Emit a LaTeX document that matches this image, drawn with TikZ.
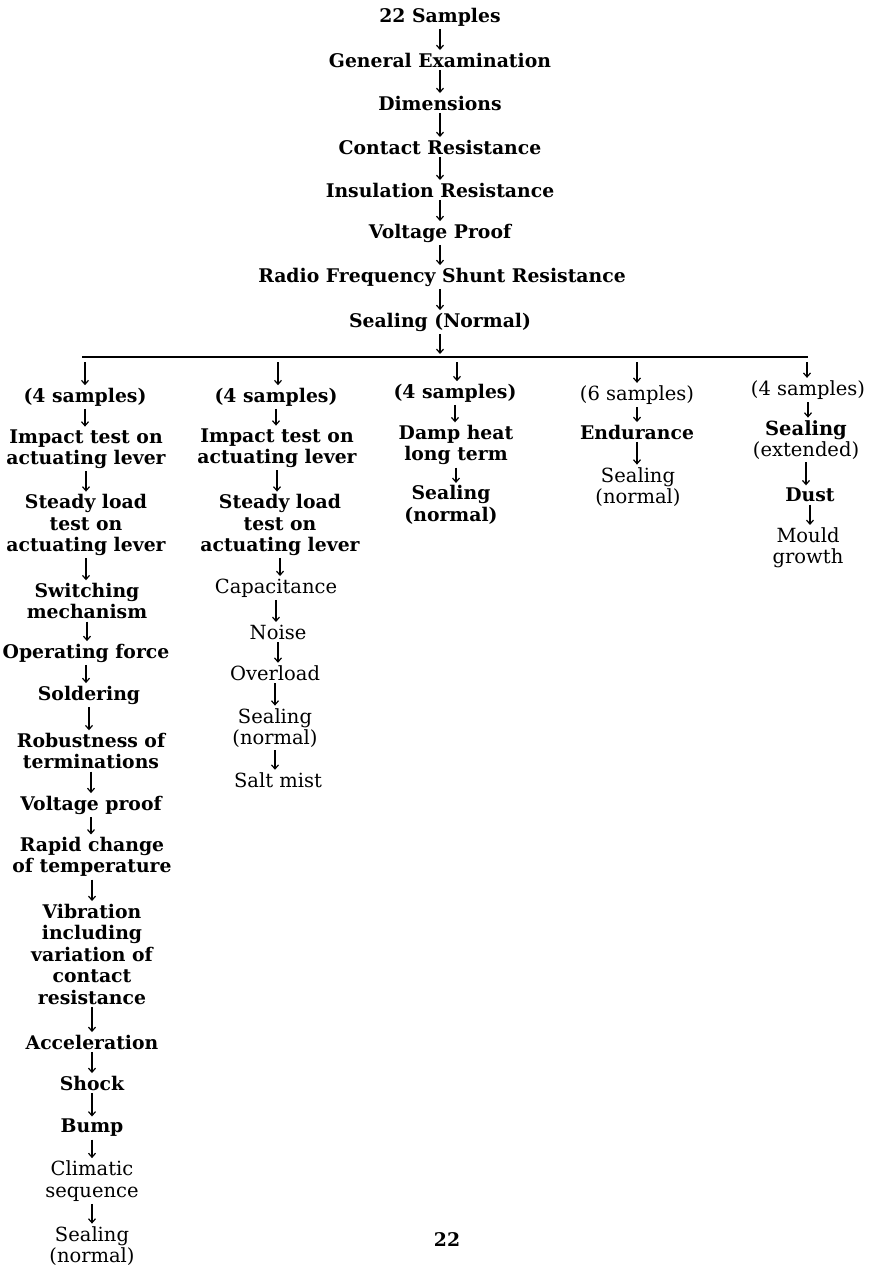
\documentclass[tikz,border=0pt]{standalone}
\usepackage{fontspec}
\setmainfont{DejaVu Serif}
\usetikzlibrary{arrows.meta}
\begin{document}
\begin{tikzpicture}[x=1pt,y=-1pt,
  t/.style={align=center, inner sep=0pt, font=\fontsize{19.5}{21.5}\selectfont},
  hv/.style={t, font=\fontsize{18.8}{21.5}\selectfont\bfseries},
  arr/.style={-{Straight Barb[length=4pt,width=7pt]}, line width=1.2pt, shorten <=2.5pt, shorten >=2.5pt},
  bar/.style={line width=1.1pt}]
\useasboundingbox (0,0) rectangle (869,1265);
% main chain
\node[hv] (n1) at (440,17) {22 Samples};
\node[hv] (n2) at (440,60) {General Examination};
\node[hv] (n3) at (440,103) {Dimensions};
\node[hv] (n4) at (440,147) {Contact Resistance};
\node[hv] (n5) at (440,190) {Insulation Resistance};
\node[hv] (n6) at (440,233) {Voltage Proof};
\node[hv] (n7) at (442,277) {Radio Frequency Shunt Resistance};
\node[hv] (n8) at (440,322) {Sealing (Normal)};
\coordinate (j) at (440,357);
\coordinate (bl) at (82,357);
\coordinate (br) at (808,357);
\coordinate (ta) at (85,357);
\coordinate (tb) at (278,357);
\coordinate (tc) at (457,357);
\coordinate (td) at (637,357);
\coordinate (te) at (807,357);
\draw[bar] (bl) -- (br);
\foreach \a/\b in {n1/n2,n2/n3,n3/n4,n4/n5,n5/n6,n6/n7,n7/n8}
  \draw[arr] (\a.south -| j) -- (\b.north -| j);
\draw[arr, shorten >=3pt] (n8.south) -- (j);
% column 1
\node[hv] (a1) at (85,397) {(4 samples)};
\node[hv] (a2) at (86,449) {Impact test on\\actuating lever};
\node[hv] (a3) at (86,525) {Steady load\\test on\\actuating lever};
\node[hv] (a4) at (87,601) {Switching\\mechanism};
\node[hv] (a5) at (86,653) {Operating force};
\node[hv] (a6) at (89,695) {Soldering};
\node[hv] (a7) at (91,751) {Robustness of\\terminations};
\node[hv] (a8) at (91,805) {Voltage proof};
\node[hv] (a9) at (92,857) {Rapid change\\of temperature};
\node[hv] (a10) at (92,954) {Vibration\\including\\variation of\\contact\\resistance};
\node[hv] (a11) at (92,1042) {Acceleration};
\node[hv] (a12) at (92,1083) {Shock};
\node[hv] (a13) at (92,1128) {Bump};
\node[t] (a14) at (92,1181) {Climatic\\sequence};
\node[t] (a15) at (92,1246) {Sealing\\(normal)};
% column 2
\node[hv] (b1) at (276,397) {(4 samples)};
\node[hv] (b2) at (277,448) {Impact test on\\actuating lever};
\node[hv] (b3) at (280,525) {Steady load\\test on\\actuating lever};
\node[t] (b4) at (276,588) {Capacitance};
\node[t] (b5) at (278,632) {Noise};
\node[t] (b6) at (275,673) {Overload};
\node[t] (b7) at (275,728) {Sealing\\(normal)};
\node[t] (b8) at (278,780) {Salt mist};
% column 3
\node[hv] (c1) at (455,393) {(4 samples)};
\node[hv] (c2) at (456,445) {Damp heat\\long term};
\node[hv] (c3) at (451,505) {Sealing\\(normal)};
% column 4
\node[t] (d1) at (637,395) {(6 samples)};
\node[hv] (d2) at (637,432) {Endurance};
\node[t] (d3) at (638,487) {Sealing\\(normal)};
% column 5
\node[t] (e1) at (808,390) {(4 samples)};
\node[t] (e2) at (806,440) {\textbf{Sealing}\\(extended)};
\node[hv] (e3) at (810,495) {Dust};
\node[t] (e4) at (808,548) {Mould\\growth};
% page number
\node[hv] (pg) at (447,1240) {22};
% branch arrows
\foreach \c/\n in {ta/a1,tb/b1,tc/c1,td/d1,te/e1}
  \draw[arr, shorten <=5pt] (\c) -- (\c |- \n.north);
% column arrows
\foreach \a/\b in {a1/a2,a2/a3,a3/a4,a4/a5,a5/a6,a6/a7,a7/a8,a8/a9,a9/a10,a10/a11,a11/a12,a12/a13,a13/a14,a14/a15,
  b1/b2,b2/b3,b3/b4,b4/b5,b5/b6,b6/b7,b7/b8,
  c1/c2,c2/c3,d1/d2,d2/d3,e1/e2,e2/e3,e3/e4}
  \draw[arr] (\a.south) -- (\a.south |- \b.north);
\end{tikzpicture}
\end{document}
